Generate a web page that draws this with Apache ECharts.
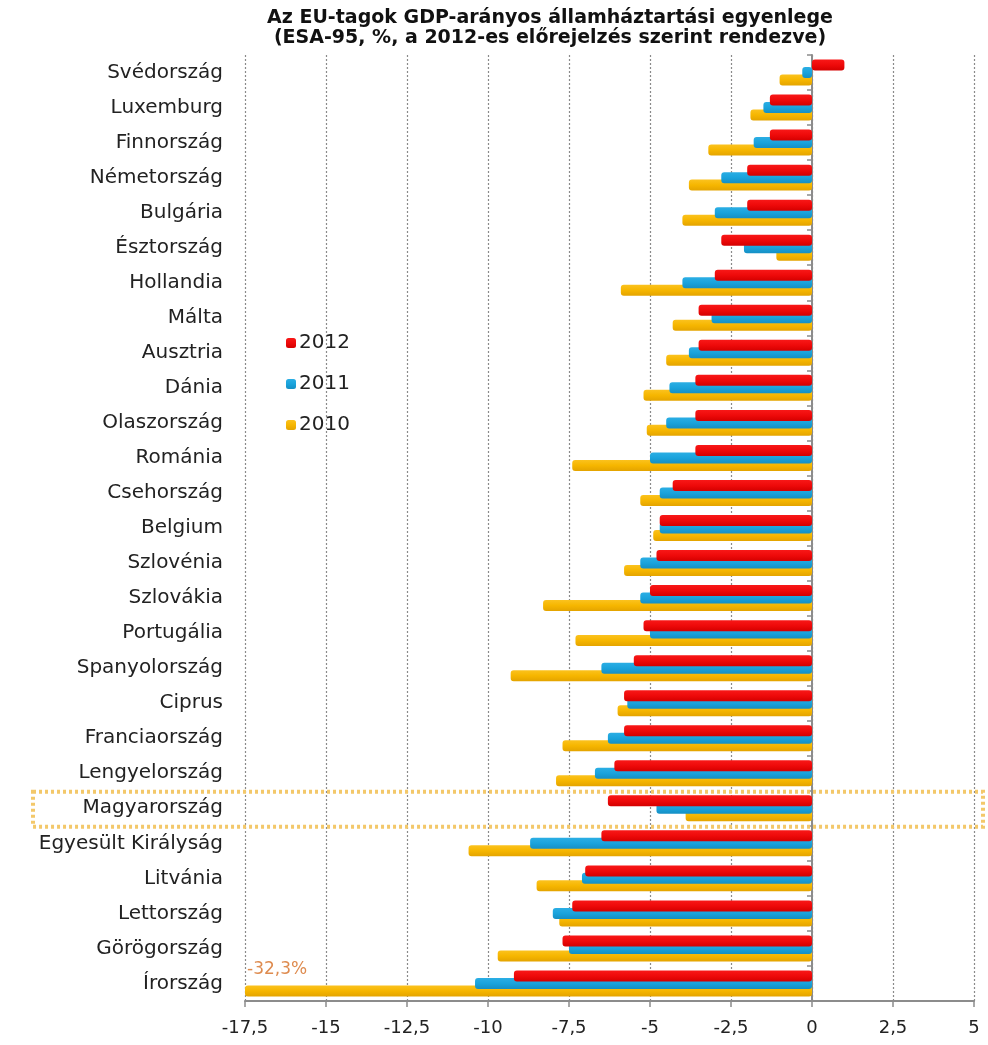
<!DOCTYPE html>
<html>
<head>
<meta charset="utf-8">
<script src="https://cdn.jsdelivr.net/npm/echarts@6/dist/echarts.min.js"></script>
<style>
html,body{margin:0;padding:0;background:#fff;}
#chart{width:988px;height:1045px;}
</style>
</head>
<body>
<div id="chart"></div>
<script>
const titleText = 'Az EU-tagok GDP-arányos államháztartási egyenlege\n(ESA-95, %, a 2012-es előrejelzés szerint rendezve)';
const categories = ['Svédország','Luxemburg','Finnország','Németország','Bulgária','Észtország','Hollandia','Málta','Ausztria','Dánia','Olaszország','Románia','Csehország','Belgium','Szlovénia','Szlovákia','Portugália','Spanyolország','Ciprus','Franciaország','Lengyelország','Magyarország','Egyesült Királyság','Litvánia','Lettország','Görögország','Írország'];
const seriesNames = ['2012','2011','2010'];
const values2012 = [1.0,-1.3,-1.3,-2.0,-2.0,-2.8,-3.0,-3.5,-3.5,-3.6,-3.6,-3.6,-4.3,-4.7,-4.8,-5.0,-5.2,-5.5,-5.8,-5.8,-6.1,-6.3,-6.5,-7.0,-7.4,-7.7,-9.2];
const values2011 = [-0.3,-1.5,-1.8,-2.8,-3.0,-2.1,-4.0,-3.1,-3.8,-4.4,-4.5,-5.0,-4.7,-4.7,-5.3,-5.3,-5.0,-6.5,-5.7,-6.3,-6.7,-4.8,-8.7,-7.1,-8.0,-7.5,-10.4];
const values2010 = [-1.0,-1.9,-3.2,-3.8,-4.0,-1.1,-5.9,-4.3,-4.5,-5.2,-5.1,-7.4,-5.3,-4.9,-5.8,-8.3,-7.3,-9.3,-6.0,-7.7,-7.9,-3.9,-10.6,-8.5,-7.8,-9.7,-32.3];
const xTicks = {min: -17.5, max: 5, interval: 2.5};
const highlighted = 'Magyarország';

const colors = {
  '2012': ['#F81818', '#EE0A0A', '#D40000'],
  '2011': ['#2BAEE4', '#1AA3DC', '#158FC4'],
  '2010': ['#FBC21E', '#F6B600', '#E4A400']
};
function grad(c) {
  return new echarts.graphic.LinearGradient(0, 0, 0, 1, [
    {offset: 0, color: c[0]}, {offset: 0.5, color: c[1]}, {offset: 1, color: c[2]}
  ]);
}
const valueSets = {'2012': values2012, '2011': values2011, '2010': values2010};
const zOrder = {'2012': 4, '2011': 3, '2010': 2};
const fmt = v => String(v).replace('.', ',');

const chart = echarts.init(document.getElementById('chart'), null, {renderer: 'canvas'});
const series = seriesNames.map(name => ({
  name: name,
  type: 'bar',
  z: zOrder[name],
  barWidth: 11,
  barGap: '-32%',
  clip: true,
  itemStyle: {color: grad(colors[name]), borderRadius: 3},
  data: valueSets[name].map(v => v < xTicks.min ? {
      value: v,
      label: {
        show: true, position: 'insideLeft', distance: 2, offset: [0, -21],
        formatter: p => fmt(p.value.toFixed(1)) + '%',
        color: '#DE8B4F', fontSize: 17, fontFamily: 'DejaVu Sans'
      }
    } : v)
}));

chart.setOption({
  animation: false,
  backgroundColor: '#fff',
  title: {
    text: titleText,
    left: 550,
    top: 8,
    textAlign: 'center',
    padding: 0,
    textStyle: {fontFamily: 'DejaVu Sans', fontWeight: 'bold', fontSize: 19, lineHeight: 20, color: '#111'}
  },
  legend: {
    orient: 'vertical',
    left: 281,
    top: 328,
    itemWidth: 10,
    itemHeight: 10,
    itemGap: 21,
    icon: 'roundRect',
    textStyle: {fontFamily: 'DejaVu Sans', fontSize: 20, color: '#222', padding: [0, 0, 0, -2]},
    data: seriesNames
  },
  grid: {left: 245, right: 14, top: 55, bottom: 44, containLabel: false},
  xAxis: {
    type: 'value', min: xTicks.min, max: xTicks.max, interval: xTicks.interval,
    axisLine: {show: true, onZero: false, lineStyle: {color: '#8c8c8c', width: 2}},
    axisTick: {show: true, length: 6, lineStyle: {color: '#8c8c8c', width: 1.5}},
    axisLabel: {formatter: v => fmt(v), fontFamily: 'DejaVu Sans', fontSize: 18, color: '#222', margin: 18},
    splitLine: {show: true, lineStyle: {color: '#8a8a8a', type: [2, 2], width: 1.2}}
  },
  yAxis: [{
    type: 'category', data: categories, inverse: true, position: 'left',
    axisLine: {show: false, onZero: false},
    axisTick: {show: false},
    axisLabel: {fontFamily: 'DejaVu Sans', fontSize: 20, color: '#222', margin: 22}
  }, {
    type: 'category', data: categories, inverse: true, position: 'right',
    axisLine: {show: true, onZero: true, lineStyle: {color: '#8c8c8c', width: 2}},
    axisTick: {show: true, inside: true, length: 5, lineStyle: {color: '#8c8c8c', width: 1.5}},
    axisLabel: {show: false},
    splitLine: {show: false}
  }],
  series: series
});

function drawBox() {
  const yAxis = chart.getModel().getComponent('yAxis', 0).axis;
  const band = yAxis.getBandWidth();
  const cy = chart.convertToPixel({yAxisIndex: 0}, highlighted);
  chart.setOption({
    graphic: [{
      type: 'rect',
      shape: {x: 33, y: cy - band / 2 + 1, width: 950, height: band},
      style: {fill: 'none', stroke: '#F3C86A', lineWidth: 4, lineDash: [3, 3]},
      z: 1, silent: true
    }]
  });
}
drawBox();
</script>
</body>
</html>
